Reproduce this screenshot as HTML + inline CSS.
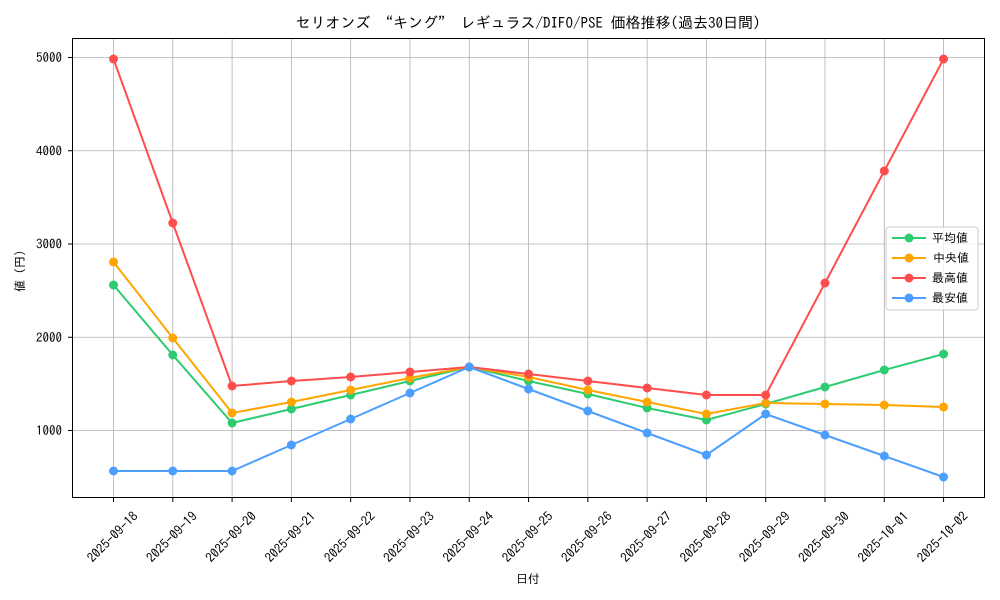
<!DOCTYPE html>
<html><head><meta charset="utf-8"><style>
body{margin:0;background:#fff}
svg{display:block;font-family:"IPAGothic","Noto Sans CJK JP",sans-serif}
</style></head><body>
<svg width="1000" height="600" viewBox="0 0 1000 600" xmlns="http://www.w3.org/2000/svg">
<rect width="1000" height="600" fill="#fff"/>
<text x="528" y="28" font-size="15" text-anchor="middle" fill="#000">セリオンズ “キング” レギュラス/DIFO/PSE 価格推移(過去30日間)</text>
<g stroke="#b0b0b0" stroke-width="0.8" id="grid"></g>
<g id="ticks" font-size="13" fill="#000"></g>
<rect x="72.5" y="38.5" width="912" height="459" fill="none" stroke="#000" stroke-width="1"/>
<g id="series"></g>
<text x="528" y="583" font-size="12" text-anchor="middle">日付</text>
<text transform="translate(24,268) rotate(-90)" font-size="12" text-anchor="middle">値（円）</text>
<g transform="translate(886,227)">
<rect x="0" y="0" width="92" height="83" rx="3" fill="#fff" fill-opacity="0.8" stroke="#ccc"/>
<line x1="6" y1="11" x2="40" y2="11" stroke="#2ecc71" stroke-width="2"/><circle cx="23" cy="11" r="4.5" fill="#2ecc71"/><text x="46" y="15" font-size="12">平均値</text>
<line x1="6" y1="31" x2="40" y2="31" stroke="#ffa500" stroke-width="2"/><circle cx="23" cy="31" r="4.5" fill="#ffa500"/><text x="47" y="35" font-size="12">中央値</text>
<line x1="6" y1="51" x2="40" y2="51" stroke="#ff4d4d" stroke-width="2"/><circle cx="23" cy="51" r="4.5" fill="#ff4d4d"/><text x="46" y="55" font-size="12">最高値</text>
<line x1="6" y1="71" x2="40" y2="71" stroke="#4d9fff" stroke-width="2"/><circle cx="23" cy="71" r="4.5" fill="#4d9fff"/><text x="46" y="75" font-size="12">最安値</text>
</g>
</svg>
<script>
const ns="http://www.w3.org/2000/svg";
function el(t,a,p){const e=document.createElementNS(ns,t);for(const k in a)e.setAttribute(k,a[k]);p.appendChild(e);return e;}
const grid=document.getElementById('grid'),ticks=document.getElementById('ticks'),ser=document.getElementById('series');
const dates=["2025-09-18","2025-09-19","2025-09-20","2025-09-21","2025-09-22","2025-09-23","2025-09-24","2025-09-25","2025-09-26","2025-09-27","2025-09-28","2025-09-29","2025-09-30","2025-10-01","2025-10-02"];
const X=i=>113.5+i*59.29;
dates.forEach((d,i)=>{const x=X(i);
el('line',{x1:x,y1:38,x2:x,y2:497},grid);
el('line',{x1:x,y1:498,x2:x,y2:502,stroke:'#000'},ticks);
const t=el('text',{x:0,y:0,'text-anchor':'middle','dominant-baseline':'central',transform:`translate(${x-1},${537}) rotate(-45)`},ticks);t.textContent=d;});
const Y=v=>430.5-(v-1000)*0.09325;
[1000,2000,3000,4000,5000].forEach(v=>{const y=Y(v);
el('line',{x1:73,y1:y,x2:985,y2:y},grid);
el('line',{x1:68,y1:y,x2:72,y2:y,stroke:'#000'},ticks);
const t=el('text',{x:62,y:y+4.5,'text-anchor':'end'},ticks);t.textContent=v;});
const S=[
["#2ecc71",[285,355,423,409,395,381,367,381,394,408,420,404,387,370,354]],
["#ffa500",[262,338,413,402,390,378,367,377,390,402,414,403,404,405,407]],
["#ff4d4d",[59,223,386,381,377,372,367,374,381,388,395,395,283,171,59]],
["#4d9fff",[471,471,471,445,419,393,367,389,411,433,455,414,435,456,477]]];
S.forEach(([c,ys])=>{el('polyline',{points:ys.map((y,i)=>X(i)+','+y).join(' '),fill:'none',stroke:c,'stroke-width':2},ser);
ys.forEach((y,i)=>el('circle',{cx:X(i),cy:y,r:4.5,fill:c},ser));});
</script>
</body></html>
